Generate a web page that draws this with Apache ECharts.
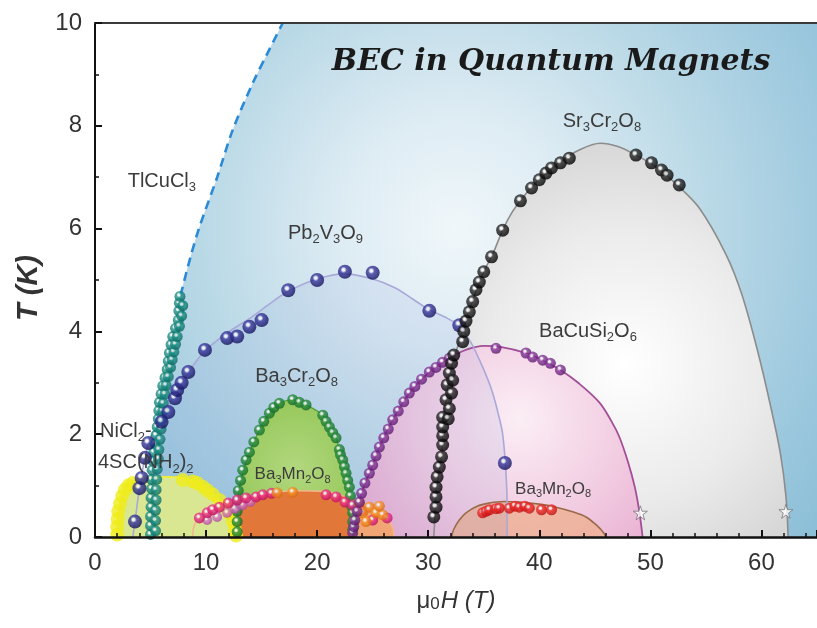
<!DOCTYPE html>
<html><head><meta charset="utf-8">
<script src="https://cdn.jsdelivr.net/npm/echarts@6/dist/echarts.min.js"></script>
<style>html,body{margin:0;padding:0;background:#fff}#c{width:817px;height:628px}</style>
</head><body><div id="c"></div>
<script>
// ---------- data (mu0H in T, T in K) ----------
const whiteEdge = [[0,0],[5.2,0],[5.25,0.5],[5.3,1.0],[5.4,1.5],[5.6,2.0],[5.8,2.5],[6.1,2.92],[6.5,3.25],[7.0,3.9],[7.4,4.3],[7.7,4.7],[8.6,5.45],[9.4,6.03],[11.0,7.0],[12.4,7.92],[14.2,8.83],[15.5,9.4],[16.9,10]];
const tlcuclDashed = [[7.7,4.7],[8.6,5.45],[9.4,6.03],[11.0,7.0],[12.4,7.92],[14.2,8.83],[15.5,9.4],[16.9,10]];
const tlcuclDots = [[5.0,0.05],[5.0,0.22],[5.0,0.4],[5.05,0.58],[5.05,0.76],[5.1,0.94],[5.1,1.12],[5.15,1.3],[5.2,1.48],[5.3,1.65],[5.4,1.82],[5.5,1.98],[5.6,2.14],[5.7,2.3],[5.75,2.46],[5.8,2.62],[5.95,2.78],[6.1,2.94],[6.3,3.1],[6.5,3.26],[6.6,3.42],[6.7,3.58],[6.85,3.74],[7.0,3.9],[7.25,4.06],[7.5,4.22],[7.55,4.4],[7.6,4.55],[7.65,4.68],
  [5.45,0.12],[5.45,0.32],[5.45,0.52],[5.5,0.72],[5.5,0.92],[5.55,1.12],[5.6,1.32],[5.7,1.52],[5.75,1.7],[5.85,1.9],[5.95,2.1],[6.0,2.3],[6.1,2.45],[6.15,2.6],[6.3,2.78],[6.4,2.95],[6.6,3.12],[6.8,3.3],[6.95,3.45],[7.1,3.6],[7.25,3.75],[7.4,3.9],[7.6,4.1],[7.8,4.3],[7.9,4.5]];
const sr3Edge = [[30.5,0],[30.6,0.4],[30.7,0.9],[31.0,1.3],[31.2,1.6],[31.3,2.1],[31.5,2.5],[31.8,2.95],[32.1,3.3],[32.5,3.6],[33.0,3.95],[33.5,4.3],[34.0,4.6],[34.6,4.96],[35.2,5.25],[35.8,5.5],[36.7,5.97],[37.5,6.3],[38.5,6.6],[39.5,6.85],[40.6,7.08],[41.9,7.3],[43.5,7.52],[45.5,7.66],[47.0,7.6],[48.7,7.43],[50.5,7.2],[52.3,6.87],[54.4,6.4],[56.8,5.5],[58.2,4.74],[59.7,3.58],[60.9,2.47],[61.7,1.63],[62.2,0.8],[62.4,0]];
const sr3Dots = [[30.5,0.39],[30.7,0.58],[30.7,0.78],[30.7,0.97],[30.8,1.17],[31.0,1.36],[31.2,1.56],[31.3,1.79],[31.3,1.97],[31.3,2.14],[31.3,2.33],[31.6,2.67],[31.7,2.96],[31.9,3.19],[32.1,3.38],[32.3,3.54],[31.8,2.3],[31.9,2.5],[32.1,2.8],[32.2,3.05],[33.1,3.8],[33.2,4.0],[33.4,4.2],[33.7,4.38],[34.0,4.58],[34.3,4.81],[34.6,4.96],[35.0,5.16],[35.7,5.45],[36.7,5.97],[38.3,6.54],[39.3,6.79],[40.0,6.95],[40.6,7.08],[41.1,7.18],[41.9,7.28],[42.7,7.37],[48.7,7.43],[50.1,7.28],[51.0,7.14],[51.5,7.04],[52.6,6.85]];
const bacusiEdge = [[23.2,0],[23.4,0.33],[24.0,0.85],[24.7,1.24],[25.6,1.75],[26.8,2.28],[28.3,2.8],[30.1,3.21],[31.9,3.48],[33.5,3.65],[35.0,3.72],[36.5,3.7],[38.8,3.58],[40.3,3.44],[41.9,3.25],[43.5,3.0],[45.4,2.62],[46.5,2.25],[47.2,1.95],[48.0,1.45],[48.6,0.97],[49.0,0.5],[49.3,0]];
const bacusiDots = [[23.2,0.08],[23.3,0.2],[23.4,0.33],[23.6,0.5],[23.8,0.68],[24.0,0.85],[24.3,1.05],[24.7,1.24],[25.0,1.4],[25.3,1.58],[25.6,1.75],[26.0,1.93],[26.4,2.1],[26.8,2.28],[27.3,2.45],[27.8,2.63],[28.3,2.8],[28.8,2.93],[29.4,3.07],[30.1,3.21],[30.7,3.3],[31.3,3.4],[31.9,3.48],[36.1,3.67],[38.8,3.58],[39.4,3.5],[40.3,3.44],[41.0,3.38],[41.9,3.25]];
const pbEdge = [[3.4,0],[3.6,0.3],[4.0,0.95],[4.5,1.54],[5.0,1.93],[6.0,2.3],[7.2,2.75],[8.4,3.2],[9.9,3.62],[11.9,3.97],[13.9,4.25],[15.5,4.5],[17.4,4.78],[20.0,5.02],[22.5,5.12],[25.0,5.02],[27.0,4.85],[28.6,4.63],[30.1,4.42],[31.5,4.28],[32.8,4.1],[33.8,3.8],[34.6,3.45],[35.3,3.1],[35.8,2.8],[36.3,2.4],[36.7,2.0],[37.0,1.25],[37.1,0.6],[37.1,0]];
const pbDots = [[3.6,0.3],[4.0,0.95],[4.2,1.15],[4.5,1.54],[4.8,1.83],[6.0,2.24],[6.6,2.43],[7.2,2.7],[7.4,2.86],[7.8,3.0],[8.4,3.21],[9.9,3.64],[11.9,3.87],[12.8,3.9],[13.9,4.09],[15.0,4.22],[17.4,4.8],[20.0,5.0],[22.5,5.16],[25.0,5.14],[30.1,4.4],[32.8,4.12],[36.9,1.44]];
const ba3cr2Edge = [[12.75,0],[12.8,0.46],[12.9,0.85],[13.3,1.24],[13.9,1.63],[14.8,2.08],[15.7,2.41],[16.6,2.6],[17.8,2.67],[19.0,2.57],[20.5,2.37],[21.1,2.14],[21.7,1.93],[22.0,1.7],[22.3,1.5],[22.6,1.24],[22.9,0.97],[23.2,0.47],[23.3,0]];
const ba3cr2Dots = [[12.8,0.1],[12.8,0.3],[12.8,0.5],[12.85,0.7],[12.9,0.9],[13.1,1.1],[13.3,1.3],[13.6,1.5],[13.9,1.65],[14.3,1.85],[14.8,2.08],[15.2,2.25],[15.7,2.41],[16.1,2.52],[16.6,2.6],[17.8,2.67],[18.4,2.62],[19.0,2.57],[20.5,2.37],[20.8,2.25],[21.1,2.14],[21.4,2.03],[21.7,1.93],[22.0,1.7],[22.1,1.6],[22.3,1.5],[22.45,1.37],[22.6,1.24],[22.75,1.1],[22.9,0.97],[23.0,0.8],[23.1,0.6],[23.2,0.47],[23.2,0.3],[23.2,0.15]];
const ba3mnAEdge = [[8.8,0],[8.9,0.2],[9.4,0.39],[10.3,0.49],[11.2,0.58],[12.1,0.66],[13.0,0.74],[14.0,0.8],[16.0,0.86],[18.0,0.9],[20.8,0.88],[22.0,0.82],[22.9,0.76],[23.8,0.66],[24.7,0.58],[25.6,0.47],[26.3,0.35],[26.8,0.18],[26.9,0]];
const ba3mnACore = [[13.0,0],[13.0,0.72],[14.0,0.8],[16.0,0.86],[18.0,0.9],[20.8,0.88],[22.0,0.82],[22.9,0.76],[23.0,0]];
const ba3mnAPink = [[9.4,0.37],[10.1,0.47],[10.6,0.53],[11.2,0.58],[12.0,0.66],[12.8,0.72],[13.6,0.76],[14.5,0.78],[15.1,0.82],[15.9,0.85],[20.8,0.82],[21.7,0.78],[22.5,0.68],[23.2,0.62],[24.0,0.52],[25.0,0.33],[26.3,0.37]];
const ba3mnAViolet = [[10.1,0.33],[11.0,0.39],[11.9,0.47],[12.6,0.55],[13.3,0.62],[14.0,0.68]];
const ba3mnAOrange = [[16.4,0.86],[17.8,0.87],[23.8,0.66],[24.1,0.47],[24.7,0.58],[25.3,0.47],[25.9,0.43],[24.4,0.3],[25.6,0.6]];
const nicl2Edge = [[2.0,0],[2.1,0.46],[2.5,0.85],[3.4,1.08],[5.0,1.17],[7.9,1.15],[9.2,1.05],[10.1,0.91],[11.2,0.72],[12.1,0.46],[12.6,0.14],[12.7,0]];
const nicl2Dots = [[2.0,0.05],[2.0,0.2],[2.05,0.35],[2.1,0.5],[2.25,0.65],[2.45,0.8],[2.7,0.92],[3.0,1.0],[3.4,1.05],[7.9,1.11],[8.8,1.08],[9.2,1.05],[9.7,0.98],[10.1,0.91],[10.6,0.83],[11.2,0.72],[11.6,0.6],[12.1,0.46],[12.4,0.3],[12.6,0.14],[12.7,0.03]];
const ba3mnBEdge = [[32.1,0],[32.3,0.15],[32.8,0.33],[33.4,0.47],[34.4,0.6],[35.5,0.66],[36.8,0.69],[38.2,0.68],[40.0,0.64],[41.5,0.58],[43.0,0.49],[44.2,0.39],[45.2,0.22],[45.8,0.08],[46.0,0]];
const ba3mnBDots = [[34.9,0.47],[35.2,0.5],[35.5,0.53],[36.1,0.55],[36.4,0.56],[37.3,0.56],[37.8,0.6],[38.2,0.58],[38.7,0.6],[39.1,0.56],[40.2,0.53],[41.1,0.53]];
const starDots = [[49.1,0.47],[62.2,0.5]];
const labelTexts = ['{n|TlCuCl}{s|3}','{n|Pb}{s|2}{n|V}{s|3}{n|O}{s|9}','{n|Sr}{s|3}{n|Cr}{s|2}{n|O}{s|8}','{n|BaCuSi}{s|2}{n|O}{s|6}','{n|Ba}{s|3}{n|Cr}{s|2}{n|O}{s|8}','{m|Ba}{t|3}{m|Mn}{t|2}{m|O}{t|8}','{m|Ba}{t|3}{m|Mn}{t|2}{m|O}{t|8}','{n|NiCl}{s|2}{n|-}','{n|4SC(NH}{s|2}{n|)}{s|2}','{h|BEC in Quantum Magnets}'];
const labelAnchors = [[6.02,6.91],[20.75,5.91],[45.64,8.09],[44.38,3.99],[18.15,3.13],[17.79,1.21],[41.24,0.93],[0.45,2.06],[0.27,1.44],[41.06,9.24]];
const labelAligns = ['center','center','center','center','center','center','center','left','left','center'];
const xName = '{u|μ}{z|0}{i|H (T)}';
const yName = 'T (K)';

// ---------- styling helpers ----------
const FONT = '"Liberation Sans", Arial, sans-serif';
function ball(c1, c2) {
  return {type:'radial', x:0.4, y:0.36, r:0.62, colorStops:[
    {offset:0,color:'#ffffff'},{offset:0.16,color:'#eeeeee'},{offset:0.36,color:c1},{offset:1,color:c2}]};
}
function dome(data, lineColor, lineWidth, fill, smooth) {
  return {type:'line', z:2, data:data, smooth:smooth==null?0.35:smooth, symbol:'none', silent:true,
    lineStyle:{color:lineColor, width:lineWidth}, areaStyle:{color:fill, opacity:1}};
}
function dots(data, size, color) {
  return {type:'scatter', z:5, data:data, symbolSize:size, silent:true, itemStyle:{color:color}};
}
const starPath = 'path://M50,0 L61,35 L98,35 L68,57 L79,91 L50,70 L21,91 L32,57 L2,35 L39,35 Z';

const chart = echarts.init(document.getElementById('c'), null, {renderer:'canvas'});
chart.setOption({
  animation:false,
  backgroundColor:'#ffffff',
  grid:{left:95, right:0, top:23, bottom:91, show:true, borderWidth:0,
    backgroundColor:{type:'radial', x:0.5, y:0.4, r:0.95, colorStops:[
      {offset:0,color:'#f0f7fa'},{offset:0.25,color:'#dcebf3'},{offset:0.5,color:'#bcdae7'},{offset:0.75,color:'#a0cadf'},{offset:1,color:'#88bdd6'}]}},
  xAxis:[{type:'value', min:0, max:65, interval:10, position:'bottom', z:6,
      axisLine:{show:true, onZero:false, lineStyle:{color:'#111', width:2.5}},
      axisTick:{show:true, inside:true, length:7, lineStyle:{color:'#111', width:2}},
      minorTick:{show:true, splitNumber:5, length:4, lineStyle:{color:'#111', width:1.5}},
      splitLine:{show:false},
      axisLabel:{color:'#333', fontSize:24, fontFamily:FONT, margin:14, showMaxLabel:false},
      name:xName, nameLocation:'middle', nameGap:52,
      nameTextStyle:{rich:{
        u:{fontSize:24, fontFamily:FONT, color:'#333'},
        z:{fontSize:17, fontFamily:FONT, color:'#333', padding:[6,1,0,0]},
        i:{fontSize:24, fontFamily:FONT, fontStyle:'italic', color:'#333'}}}},
    {type:'value', min:0, max:65, position:'top', z:6,
      axisLine:{show:true, onZero:false, lineStyle:{color:'#3a3a3a', width:2}},
      axisTick:{show:false}, axisLabel:{show:false}, splitLine:{show:false}}],
  yAxis:{type:'value', min:0, max:10, interval:2, z:6,
    axisLine:{show:true, onZero:false, lineStyle:{color:'#111', width:2}},
    axisTick:{show:true, inside:true, length:7, lineStyle:{color:'#111', width:2}},
    minorTick:{show:true, splitNumber:2, length:4, lineStyle:{color:'#111', width:1.5}},
    splitLine:{show:false},
    axisLabel:{color:'#333', fontSize:24, fontFamily:FONT, margin:13},
    name:yName, nameLocation:'middle', nameGap:52, nameRotate:90,
    nameTextStyle:{fontSize:29, fontFamily:FONT, fontStyle:'italic', fontWeight:'bold', color:'#333', padding:[0,16,0,0]}},
  series:[
    {type:'line', z:2, data:whiteEdge, smooth:0.3, symbol:'none', silent:true, lineStyle:{width:0, opacity:0},
      areaStyle:{color:'#ffffff', opacity:1, origin:'end'}},
    dome(sr3Edge, '#8c8c8c', 1.6, {type:'radial', x:0.54, y:0.56, r:0.85, colorStops:[
      {offset:0,color:'#ffffff'},{offset:0.45,color:'#ebebeb'},{offset:1,color:'#c6c6c6'}]}),
    dome(bacusiEdge, '#a24f98', 1.8, {type:'radial', x:0.575, y:0.38, r:1.07, colorStops:[
      {offset:0,color:'#fbeef5'},{offset:0.5,color:'#f2cde2'},{offset:1,color:'#e6a6cc'}]}),
    dome(ba3mnBEdge, '#9a6a48', 1.6, 'rgba(238,176,146,0.8)'),
    dome(pbEdge, '#a9a9d8', 1.6, 'rgba(110,130,210,0.1)'),
    dome(ba3cr2Edge, '#4e9e3c', 1.2, {type:'radial', x:0.5, y:0.5, r:0.8, colorStops:[
      {offset:0,color:'#b2d87e'},{offset:1,color:'#8cc24e'}]}),
    dome(ba3mnAEdge, '#f5b58a', 1.5, '#f2a574'),
    dome(ba3mnACore, '#e2773a', 0, '#e2773a', 0.2),
    dome(nicl2Edge, '#eeec40', 2, '#d9e793'),
    {type:'line', z:3, data:tlcuclDashed, smooth:0.3, symbol:'none', silent:true,
      lineStyle:{color:'#2a8ad8', width:2.6, type:[9,6]}},
    dots(nicl2Dots, 14, '#efec1c'),
    dots(tlcuclDots, 11, ball('#1f958a','#0e6a62')),
    dots(ba3cr2Dots, 11, ball('#2a9040','#136a25')),
    dots(ba3mnAViolet, 10, ball('#d878c8','#b04aa0')),
    dots(ba3mnAPink, 11, ball('#f0388c','#c01060')),
    dots(ba3mnAOrange, 11, ball('#f89a30','#d86a10')),
    dots(bacusiDots, 11, ball('#8a3a9c','#5c1a70')),
    dots(pbDots, 14, ball('#3a3aa0','#15135e')),
    dots(sr3Dots, 13, ball('#2a2a2a','#000000')),
    dots(ba3mnBDots, 11, ball('#f03030','#c01010')),
    {type:'scatter', z:5, data:starDots, symbol:starPath, symbolSize:14, silent:true,
      itemStyle:{color:'#ffffff', borderColor:'#777', borderWidth:1}},
    {type:'scatter', silent:true, symbolSize:1, z:10, itemStyle:{color:'transparent'},
      data:labelAnchors.map((p,i)=>({value:p, label:{formatter:labelTexts[i], align:labelAligns[i]}})),
      label:{show:true, position:'inside', opacity:1, color:'#3c3c3c', rich:{
        n:{fontSize:20, fontFamily:FONT, color:'#3c3c3c'},
        s:{fontSize:13, fontFamily:FONT, color:'#3c3c3c', padding:[12,0,0,0]},
        m:{fontSize:17, fontFamily:FONT, color:'#3c3c3c'},
        t:{fontSize:11, fontFamily:FONT, color:'#3c3c3c', padding:[10,0,0,0]},
        h:{fontSize:30, fontFamily:'"DejaVu Serif", serif', fontStyle:'italic', fontWeight:'bold', color:'#1a1a1a'}}}}
  ]
});
</script></body></html>
